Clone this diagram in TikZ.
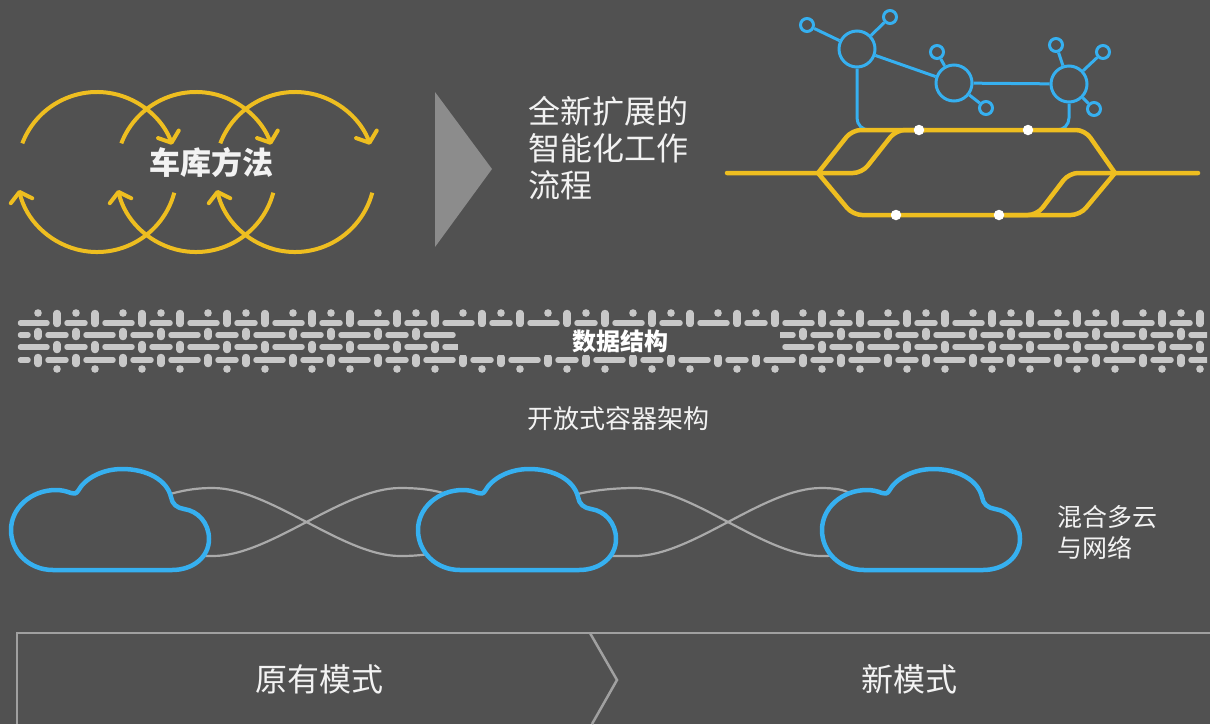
\documentclass[tikz,border=0pt]{standalone}
\usepackage{fontspec}
\newfontfamily\cjk{Noto Sans CJK SC}
\usetikzlibrary{arrows.meta}
\definecolor{bg}{RGB}{81,81,81}
\definecolor{gold}{RGB}{238,190,32}
\definecolor{netblue}{RGB}{54,176,240}
\definecolor{weave}{RGB}{200,200,200}
\definecolor{linkgray}{RGB}{170,170,170}
\definecolor{framegray}{RGB}{160,160,160}
\definecolor{arrowgray}{RGB}{140,140,140}
\definecolor{txt}{RGB}{242,242,242}

\tikzset{
  loopline/.style={draw=gold, line width=4pt, -{Straight Barb[length=9pt,width=22pt,round]}},
  track/.style={draw=gold, line width=4.5pt, line cap=round, line join=round, rounded corners=9pt},
  netline/.style={draw=netblue, line width=3pt},
  bignet/.style={circle, draw=netblue, line width=3pt, fill=bg, minimum size=36pt, inner sep=0pt},
  smallnet/.style={circle, draw=netblue, line width=3pt, fill=bg, minimum size=13pt, inner sep=0pt},
  stopdot/.style={circle, fill=white, minimum size=10.5pt, inner sep=0pt},
  wbar/.style={draw=weave, line width=7.5pt, line cap=round},
  wdash/.style={draw=weave, line width=5.5pt, line cap=round},
  linkline/.style={draw=linkgray, line width=2.2pt},
  cloudline/.style={draw=netblue, fill=bg, line width=4.5pt, line join=round},
  framestroke/.style={draw=framegray, line width=2.5pt},
  label/.style={text=txt, inner sep=0pt},
  netcloud/.pic={
    \path[cloudline] (42,101) -- (161,101)
      .. controls (182,101) and (198,88) .. (198,70)
      .. controls (198,54) and (187,42) .. (173,40)
      .. controls (166,39) and (161,35) .. (160,28)
      .. controls (156,11) and (136,0) .. (111,0)
      .. controls (92,0) and (74,9) .. (67,22)
      .. controls (65,25) and (63,25) .. (60,24)
      .. controls (55,22) and (50,21) .. (45,21)
      .. controls (20,21) and (0,39) .. (0,61)
      .. controls (0,83) and (18,101) .. (42,101) -- cycle;
  }
}

\begin{document}
\begin{tikzpicture}[x=1pt, y=-1pt]
\fill[bg] (0,0) rectangle (1210,724);
\useasboundingbox (0,0) rectangle (1210,724);

% ---- iterative loops ----
\foreach \cx in {97,196,295} {
  \draw[loopline] (\cx,172) ++(-159:80) arc[start angle=-159, end angle=-20, radius=80];
  \draw[loopline] (\cx,172) ++(15:80) arc[start angle=15, end angle=167, radius=80];
}
\node[label, font=\cjk\bfseries\fontsize{31}{31}\selectfont] (garage) at (211,163) {车库方法};

% ---- transition arrow ----
\fill[arrowgray] (435,92) -- (492,169) -- (435,247) -- cycle;
\node[label, anchor=west, align=left, font=\cjk\fontsize{32}{37}\selectfont] (workflow) at (528,148)
  {全新扩展的\\智能化工作\\流程};

% ---- network on top of the tracks ----
\node[bignet] (A) at (857,49) {};
\node[bignet] (B) at (954,83) {};
\node[bignet] (C) at (1069,84) {};
\node[smallnet] (a1) at (807,25) {};
\node[smallnet] (a2) at (890,17) {};
\node[smallnet] (b1) at (937,52) {};
\node[smallnet] (b2) at (986,108) {};
\node[smallnet] (c1) at (1056,45) {};
\node[smallnet] (c2) at (1103,52) {};
\node[smallnet] (c3) at (1094,109) {};
\draw[netline] (A) -- (a1);
\draw[netline] (A) -- (a2);
\draw[netline] (A) -- (B);
\draw[netline] (B) -- (b1);
\draw[netline] (B) -- (b2);
\draw[netline] (B) -- (C);
\draw[netline] (C) -- (c1);
\draw[netline] (C) -- (c2);
\draw[netline] (C) -- (c3);
\draw[netline, rounded corners=12pt] (A.south) -- (857,130) -- (885,130);
\draw[netline, rounded corners=12pt] (C.south) -- (1069,130) -- (1040,130);

% ---- tracks ----
\coordinate (wend) at (727,173);
\coordinate (eend) at (1198,173);
\coordinate (wj) at (818,173);
\coordinate (ej) at (1115,173);
\draw[track] (wj) -- (852,130) -- (1085,130) -- (ej);
\draw[track] (wj) -- (853,215) -- (1080,215) -- (ej);
\draw[track] (wend) -- (862,173) -- (896,130) -- (925,130);
\draw[track] (1005,215) -- (1037,215) -- (1069,173) -- (eend);
\node[stopdot] (s1) at (919,130) {};
\node[stopdot] (s2) at (1028,130) {};
\node[stopdot] (s3) at (896,215) {};
\node[stopdot] (s4) at (999,215) {};

% ---- woven data band ----
\begin{scope}
  \clip (16,300) rectangle (1207,380);
  \draw[wdash] (20.5,323) -- (47,323);
  \draw[wdash] (20.5,347) -- (47,347);
  \draw[wdash] (20.5,335) -- (28,335);
  \draw[wdash] (20.5,360) -- (28,360);
  \foreach \k in {0,...,28} {
    \pgfmathsetmacro\X{57+85*floor(\k/2)+38*mod(\k,2)}
    \pgfmathsetmacro\N{57+85*floor((\k+1)/2)+38*mod(\k+1,2)}
    \pgfmathsetmacro\Y{\X-19}
    \pgfmathsetmacro\M{\N-19}
    \draw[wbar] (\X,313.5) -- (\X,323.5);
    \draw[wbar] (\X,344.5) -- (\X,349.5);
    \draw[wbar] (\Y,331.5) -- (\Y,336.5);
    \draw[wbar] (\Y,357.5) -- (\Y,363.5);
    \fill[weave] (\Y,313) circle[radius=3.8];
    \fill[weave] (\X,369) circle[radius=3.8];
    \draw[wdash] (\X+10,323) -- (\N-10,323);
    \draw[wdash] (\X+10,347) -- (\N-10,347);
    \draw[wdash] (\Y+10,335) -- (\M-10,335);
    \draw[wdash] (\Y+10,360) -- (\M-10,360);
  }
\end{scope}
\fill[bg] (458,326.5) rectangle (780,355);
\node[text=white, inner sep=0pt, font=\cjk\bfseries\fontsize{24}{24}\selectfont] (data) at (620,341) {数据结构};

\node[label, font=\cjk\fontsize{26}{26}\selectfont] (container) at (618,419) {开放式容器架构};

% ---- hybrid cloud links ----
\draw[linkline] (160,497) .. controls (185,489) and (200,488) .. (213,488)
  .. controls (270,488) and (343,556) .. (400,556) .. controls (415,556) and (425,555) .. (440,552);
\draw[linkline] (190,556) -- (213,556)
  .. controls (270,556) and (343,488) .. (400,488) .. controls (420,488) and (435,490) .. (450,495);
\draw[linkline] (567,497) .. controls (592,489) and (622,488) .. (635,488)
  .. controls (692,488) and (764,556) .. (821,556) .. controls (836,556) and (841,555) .. (850,552);
\draw[linkline] (597,556) -- (635,556)
  .. controls (692,556) and (764,488) .. (821,488) .. controls (836,488) and (845,490) .. (851,494);
\pic (cloudA) at (11,469) {netcloud};
\pic (cloudB) at (418,469) {netcloud};
\pic (cloudC) at (822,469) {netcloud};
\node[label, anchor=west, align=left, font=\cjk\fontsize{25}{31}\selectfont] (hybrid) at (1057,532)
  {混合多云\\与网络};

% ---- old / new mode band ----
\coordinate (fl) at (17,724);
\coordinate (ftl) at (17,633);
\coordinate (ftr) at (1212,633);
\coordinate (ctop) at (590,633);
\coordinate (ctip) at (617,680);
\coordinate (cbot) at (592,724);
\draw[framestroke] (fl) -- (ftl) -- (ftr);
\draw[framestroke] (ctop) -- (ctip) -- (cbot);
\node[label, font=\cjk\fontsize{32}{32}\selectfont] (oldmode) at (319,679) {原有模式};
\node[label, font=\cjk\fontsize{32}{32}\selectfont] (newmode) at (909,679) {新模式};
\end{tikzpicture}
\end{document}
